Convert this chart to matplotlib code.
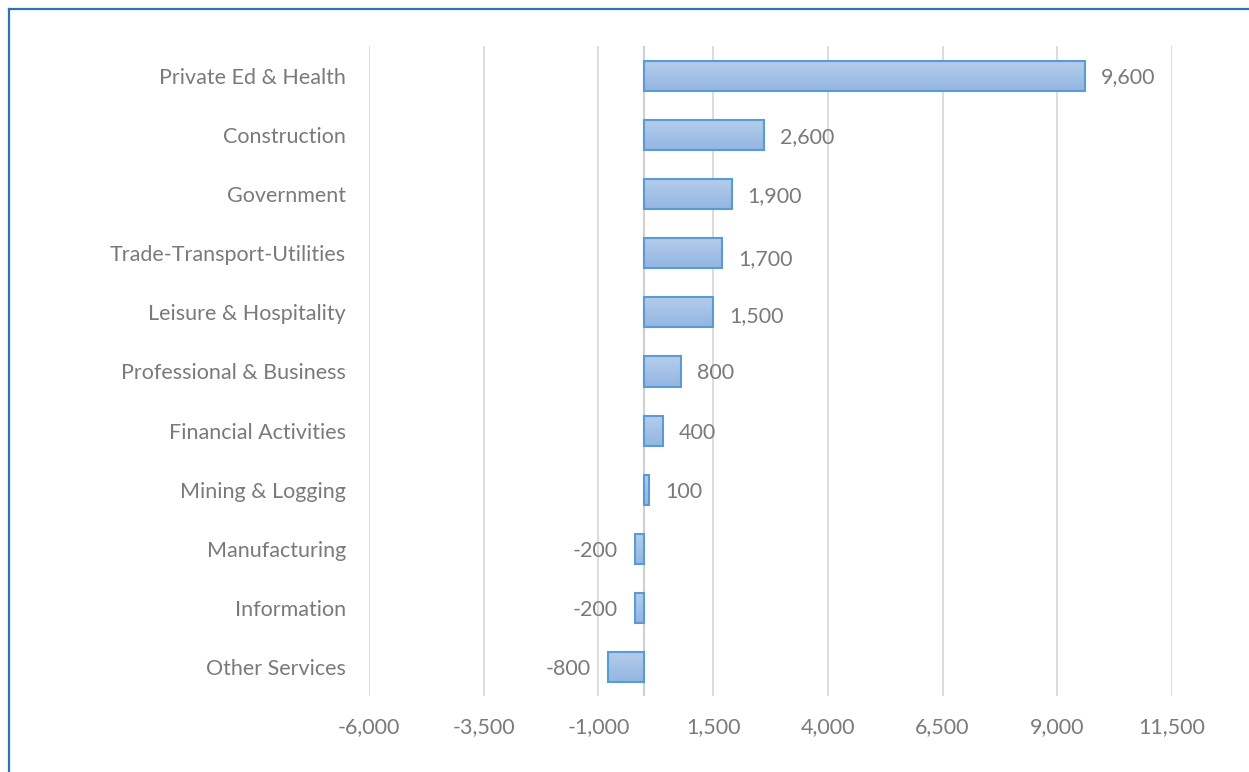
import matplotlib.pyplot as plt
import matplotlib.ticker as mticker
import numpy as np
from matplotlib.lines import Line2D
from matplotlib.colors import LinearSegmentedColormap

plt.rcParams['font.family'] = ['Lato', 'DejaVu Sans']

sectors = ["Private Ed & Health", "Construction", "Government", "Trade-Transport-Utilities",
           "Leisure & Hospitality", "Professional & Business", "Financial Activities",
           "Mining & Logging", "Manufacturing", "Information", "Other Services"]
jobs = [9600, 2600, 1900, 1700, 1500, 800, 400, 100, -200, -200, -800]
x_ticks = [-6000, -3500, -1000, 1500, 4000, 6500, 9000, 11500]

text_col = "#7A7A7A"
edge_col = "#5B9BD5"
px = 0.72  # pixels -> points at dpi 100

fig = plt.figure(figsize=(12.49, 7.72), dpi=100)
ax = fig.add_axes([0.2954, 0.0978, 0.6430, 0.8420])

y = np.arange(len(sectors))
bars = ax.barh(y, jobs, height=0.51, facecolor="none", edgecolor=edge_col, linewidth=1.5, zorder=3)

# gradient fill inside each bar
grad = np.linspace(0, 1, 64).reshape(-1, 1)
cmap = LinearSegmentedColormap.from_list("g", ["#B5CDEB", "#93B6E2"])
for b in bars:
    x0, y0 = b.get_x(), b.get_y()
    w, h = b.get_width(), b.get_height()
    im = ax.imshow(grad, cmap=cmap, aspect="auto", extent=[x0, x0 + w, y0 + h, y0],
                   origin="upper", zorder=2)
    im.set_clip_path(b)

ax.set_xlim(x_ticks[0], x_ticks[-1])
ax.set_ylim(len(sectors) - 0.5, -0.5)
ax.set_xticks(x_ticks)
ax.xaxis.set_major_formatter(mticker.FuncFormatter(lambda v, p: f"{int(v):,}"))
ax.set_yticks(y)
ax.set_yticklabels(sectors)
ax.tick_params(axis="both", length=0, labelsize=15.5, labelcolor=text_col)
ax.tick_params(axis="y", pad=23 * px)
ax.tick_params(axis="x", pad=21 * px)
ax.grid(axis="x", color="#D9D9D9", linewidth=1.3, zorder=0)
ax.set_axisbelow(True)
for s in ax.spines.values():
    s.set_visible(False)
ax.axvline(0, color="#D0D0D0", linewidth=1.5, zorder=1)

# value labels, nudged vertically like the original
nudge = [-1, -2, -2, -6, -4, -2, -2, -2, -2, -2, -2]
for i, v in enumerate(jobs):
    off = 16 if v >= 0 else -17
    ax.annotate(f"{v:,}", (v, i), xytext=(off * px, nudge[i] * px), textcoords="offset points",
                ha="left" if v >= 0 else "right", va="center", fontsize=15.5, color=text_col)

# blue frame top and left
fig.add_artist(Line2D([8.5 / 1249, 1], [1 - 8.5 / 772] * 2, transform=fig.transFigure,
                      color="#2E75B6", linewidth=1.6))
fig.add_artist(Line2D([8.5 / 1249] * 2, [0, 1 - 8.5 / 772], transform=fig.transFigure,
                      color="#2E75B6", linewidth=1.6))

fig.savefig("out.png", dpi=100)
